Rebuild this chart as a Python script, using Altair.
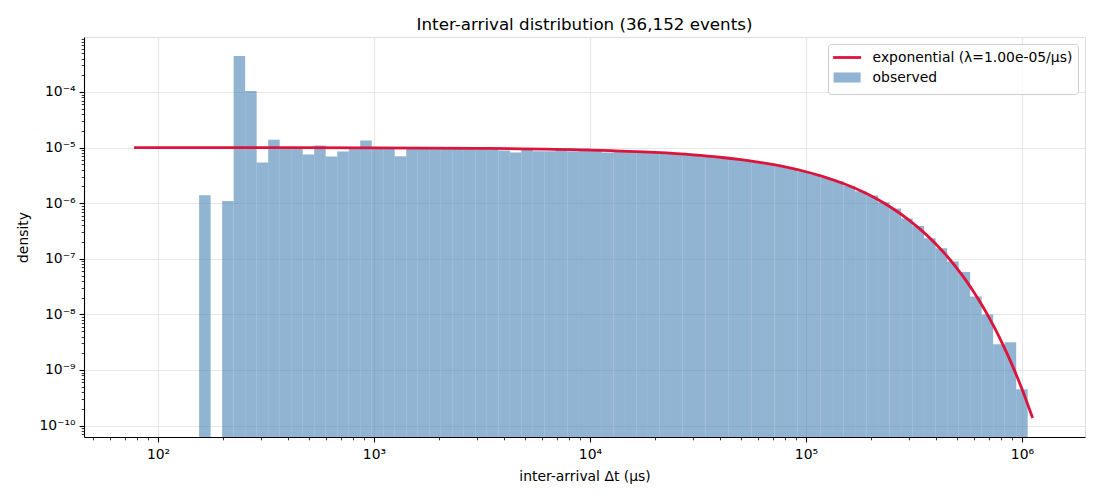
import altair as alt
import numpy as np
import pandas as pd

TITLE = "Inter-arrival distribution (36,152 events)"
X_TITLE = "inter-arrival Δt (μs)"
Y_TITLE = "density"
LINE_LABEL = "exponential (λ=1.00e-05/μs)"
BAR_LABEL = "observed"

# histogram bins (log-spaced)
bin_lo = 155.0
bin_hi = 1.0627e6
n_bins = 72

# observed density per bin (0 = empty bin)
density = [
    1.39e-6, 0.0, 1.09e-6, 4.46e-4, 1.04e-4, 5.4e-6, 1.39e-5, 1.03e-5,
    1.0e-5, 7.5e-6, 1.09e-5, 6.9e-6, 8.5e-6, 9.9e-6, 1.34e-5, 9.9e-6,
    9.4e-6, 7.0e-6, 9.8e-6, 1.02e-5, 9.7e-6, 9.8e-6, 9.7e-6, 9.8e-6,
    9.6e-6, 9.7e-6, 8.9e-6, 8.2e-6, 9.8e-6, 8.6e-6, 8.6e-6, 9.4e-6,
    8.6e-6, 9.1e-6, 9.0e-6, 8.2e-6, 8.9e-6, 8.6e-6, 8.4e-6, 8.3e-6,
    8.0e-6, 7.8e-6, 7.5e-6, 7.2e-6, 6.9e-6, 6.6e-6, 6.3e-6, 5.9e-6,
    5.5e-6, 5.1e-6, 4.6e-6, 4.2e-6, 3.75e-6, 3.3e-6, 2.85e-6, 2.47e-6,
    2.07e-6, 1.64e-6, 1.37e-6, 1.04e-6, 8.0e-7, 5.3e-7, 3.9e-7, 2.34e-7,
    1.55e-7, 8.9e-8, 5.8e-8, 2.1e-8, 1.0e-8, 2.9e-9, 3.15e-9, 4.5e-10,
]

# exponential reference curve
line_x = [77.5, 150, 300, 1000, 3000, 10000, 20000, 30000, 40000, 50000,
          60000, 70000, 80000, 100000, 120000, 150000, 180000, 210000,
          250000, 300000, 350000, 400000, 450000, 500000, 550000, 600000,
          650000, 700000, 750000, 800000, 850000, 900000, 950000, 1000000,
          1050000, 1120000]
line_y = [9.999e-6, 9.9985e-6, 9.97e-6, 9.90e-6, 9.704e-6, 9.048e-6,
          8.187e-6, 7.408e-6, 6.703e-6, 6.065e-6, 5.488e-6, 4.966e-6,
          4.493e-6, 3.679e-6, 3.012e-6, 2.231e-6, 1.653e-6, 1.225e-6,
          8.208e-7, 4.979e-7, 3.020e-7, 1.832e-7, 1.111e-7, 6.738e-8,
          4.087e-8, 2.479e-8, 1.503e-8, 9.119e-9, 5.531e-9, 3.355e-9,
          2.035e-9, 1.234e-9, 7.485e-10, 4.540e-10, 2.754e-10, 1.367e-10]

x_major = [1e2, 1e3, 1e4, 1e5, 1e6]
y_major = [1e-10, 1e-9, 1e-8, 1e-7, 1e-6, 1e-5, 1e-4]
x_minor = [m * 10.0 ** k for k in range(1, 6) for m in range(2, 10)]
x_minor = [v for v in x_minor if v > 45]
y_minor = [m * 10.0 ** k for k in range(-11, -3) for m in range(2, 10)]
y_minor = [v for v in y_minor if v > 6.3e-11]

X_DOMAIN = [10 ** 1.6574, 10 ** 6.2917]
Y_DOMAIN = [10 ** -10.205, 10 ** -3.011]

FONT = "DejaVu Sans"
BAR_COLOR = "steelblue"
LINE_COLOR = "#dc143c"

edges = np.logspace(np.log10(bin_lo), np.log10(bin_hi), n_bins + 1)
bars = pd.DataFrame({"x": edges[:-1], "x2": edges[1:], "y": density})
bars = bars[bars["y"] > 0]
line = pd.DataFrame({"x": line_x, "y": line_y})
leg = pd.DataFrame({"series": [LINE_LABEL, BAR_LABEL]})

SUP = "['⁰','¹','²','³','⁴','⁵','⁶','⁷','⁸','⁹']"
x_label_expr = "'10' + " + SUP + "[round(log(datum.value)/LN10)]"
y_label_expr = ("'10⁻' + (-round(log(datum.value)/LN10) >= 10 ? '¹' + " + SUP +
                "[-round(log(datum.value)/LN10) - 10] : " + SUP +
                "[-round(log(datum.value)/LN10)])")

xs = alt.Scale(type="log", domain=X_DOMAIN, nice=False)
ys = alt.Scale(type="log", domain=Y_DOMAIN, nice=False)

major_common = dict(
    tickColor="black", tickWidth=1.1, tickSize=4.9, domainColor="black",
    domainWidth=1.1, labelFont=FONT, labelFontSize=13.9, labelColor="black",
    grid=True, gridColor="#e7e7e7", gridWidth=1.1, titleFont=FONT,
    titleFontSize=13.9, titleFontWeight="normal", titleColor="black",
)
minor_common = dict(
    tickColor="black", tickWidth=0.8, tickSize=2.8, domain=False,
    labels=False, grid=False, title=None,
)

x_major_axis = alt.Axis(values=x_major, orient="bottom", labelExpr=x_label_expr,
                        labelPadding=6, title=X_TITLE, titlePadding=8,
                        **major_common)
y_major_axis = alt.Axis(values=y_major, orient="left", labelExpr=y_label_expr,
                        labelPadding=4, title=Y_TITLE, titlePadding=8,
                        **major_common)
x_minor_axis = alt.Axis(values=x_minor, orient="bottom", **minor_common)
y_minor_axis = alt.Axis(values=y_minor, orient="left", **minor_common)

bar_layer = alt.Chart(bars).mark_rect(color=BAR_COLOR, opacity=0.6).encode(
    x=alt.X("x:Q", scale=xs, axis=x_major_axis),
    x2="x2:Q",
    y=alt.Y("y:Q", scale=ys, axis=y_major_axis),
    y2=alt.datum(Y_DOMAIN[0]),
)

line_layer = alt.Chart(line).mark_line(
    color=LINE_COLOR, strokeWidth=2.8, interpolate="monotone"
).encode(
    x=alt.X("x:Q", scale=xs, axis=x_minor_axis),
    y=alt.Y("y:Q", scale=ys, axis=y_minor_axis),
)

leg_domain = [LINE_LABEL, BAR_LABEL]
legend = alt.Legend(
    title=None, orient="top-right", offset=7,
    fillColor="rgba(255,255,255,0.8)", strokeColor="#cccccc", cornerRadius=3,
    padding=5, rowPadding=1, symbolSize=196, symbolStrokeWidth=2.8,
    symbolOffset=5.6, labelOffset=17, labelFont=FONT, labelFontSize=13.9,
    labelColor="black", symbolOpacity=1, labelLimit=400,
)
leg_layer = alt.Chart(leg).mark_point(filled=True, opacity=1, clip=True).encode(
    x=alt.value(-200),
    y=alt.value(-200),
    color=alt.Color("series:N", scale=alt.Scale(
        domain=leg_domain, range=[LINE_COLOR, "#90b4d2"]), legend=legend),
    shape=alt.Shape("series:N", scale=alt.Scale(
        domain=leg_domain,
        range=["M-2,0L2,0", "M-1.93,-0.72L1.93,-0.72L1.93,0.72L-1.93,0.72Z"])),
    stroke=alt.Stroke("series:N", scale=alt.Scale(
        domain=leg_domain, range=[LINE_COLOR, "transparent"])),
)

chart = alt.layer(bar_layer, line_layer, leg_layer).resolve_axis(
    x="independent", y="independent"
).properties(
    width=1001, height=400,
    title=alt.TitleParams(TITLE, font=FONT, fontSize=16.7, fontWeight="normal",
                          color="black", anchor="middle", baseline="alphabetic",
                          offset=8, dy=18),
    autosize=alt.AutoSizeParams(type="none"),
    padding={"left": 76, "top": 29, "right": 7, "bottom": 50},
).configure_view(stroke="transparent").configure(background="white")

chart.save("out.html", embed_options={"renderer": "svg", "actions": False})
